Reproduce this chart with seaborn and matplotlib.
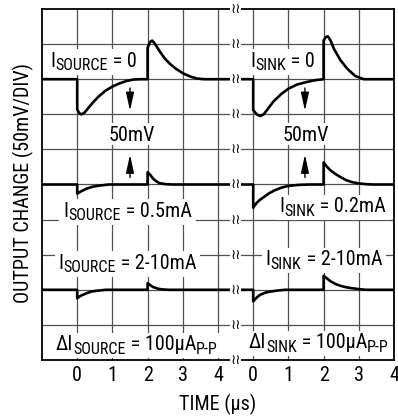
import matplotlib
matplotlib.use("Agg")
import matplotlib.pyplot as plt
import seaborn as sns
from matplotlib.font_manager import FontProperties, fontManager
from matplotlib.patches import Rectangle

# ---------------- data (output change in mV vs time in us) ----------------
# left panel: sourcing, right panel: sinking; each trace sits on its own baseline (in divisions)
SRC0_T  = [-1.0, 0.0, 0.0, 0.06, 0.12, 0.2, 0.3, 0.45, 0.6, 0.8, 1.0, 1.2, 1.4, 1.6, 1.8, 2.0,
           2.0, 2.07, 2.13, 2.2, 2.34, 2.48, 2.62, 2.8, 3.02, 3.2, 3.4, 3.6, 4.5]
SRC0_MV = [0, 0, -43, -48.5, -50, -48, -42, -33, -25, -16.5, -10.5, -6, -2.5, -0.5, 0, 0,
           45, 53, 55, 51, 40, 30, 22.5, 15, 8, 4, 1, 0, 0]

SNK0_T  = [-0.5, 0.0, 0.0, 0.1, 0.2, 0.3, 0.45, 0.57, 0.8, 1.0, 1.25, 1.52, 1.75, 2.0,
           2.0, 2.06, 2.12, 2.2, 2.29, 2.48, 2.67, 2.9, 3.14, 4.0]
SNK0_MV = [0, 0, -44, -50, -52.5, -50, -40, -32, -21, -13.5, -7.5, -4, -1.5, 0,
           55, 60, 61, 55, 43.5, 27, 15, 4.5, 0, 0]

SRC05_T  = [-1.0, 0.0, 0.0, 0.1, 0.26, 0.45, 0.64, 0.9, 2.0, 2.0, 2.08, 2.15, 2.25, 2.34, 2.5, 2.7, 4.5]
SRC05_MV = [0, 0, -13, -10, -6, -3, -1.5, 0, 0, 17.5, 13.5, 8.5, 4.5, 2, 0.5, 0, 0]

SNK02_T  = [-0.5, 0.0, 0.0, 0.1, 0.2, 0.3, 0.45, 0.6, 0.8, 1.0, 1.3, 1.6, 2.0,
            2.0, 2.1, 2.2, 2.35, 2.5, 2.65, 2.8, 3.0, 3.2, 3.4, 4.0]
SNK02_MV = [0, 0, -33, -26, -21.5, -18, -12.5, -8.5, -4.5, -2, -0.5, 0, 0,
            31.5, 25, 20, 14.5, 10, 6, 3.5, 1.5, 0.5, 0, 0]

SRC10_T  = [-1.0, 0.0, 0.0, 0.1, 0.26, 0.4, 0.54, 0.8, 2.0, 2.0, 2.08, 2.15, 2.3, 2.43, 2.6, 4.5]
SRC10_MV = [0, 0, -12, -8.5, -5, -2.5, -1.5, 0, 0, 9.5, 6.5, 4, 1.5, 0.5, 0, 0]

SNK10_T  = [-0.5, 0.0, 0.0, 0.1, 0.2, 0.35, 0.5, 0.7, 0.9, 2.0,
            2.0, 2.1, 2.2, 2.35, 2.49, 2.65, 2.77, 3.0, 3.2, 4.0]
SNK10_MV = [0, 0, -16.5, -11, -7, -4, -2.5, -1, 0, 0,
            20, 16, 12, 8, 5.5, 3.5, 2.5, 1, 0, 0]

BASELINES = [8, 8, 5, 5, 2, 2]            # divisions
PANEL_OFFSET = [0, 5, 0, 5, 0, 5]          # right panel time axis starts at 5
MV_PER_DIV = 50

XTICK_POS = [0, 1, 2, 3, 4, 5, 6, 7, 8, 9]
XTICK_LABELS = ["0", "1", "2", "3", "4", "0", "1", "2", "3", "4"]

# label text: (text, is_subscript)
LABELS = [
    ([("I", 0), ("SOURCE", 1), (" = 0", 0)], 0.463, 8.35),
    ([("I", 0), ("SINK", 1), (" = 0", 0)], 5.83, 8.35),
    ([("50mV", 0)], 1.54, 6.25),
    ([("50mV", 0)], 6.49, 6.25),
    ([("I", 0), ("SOURCE", 1), (" = 0.5mA", 0)], 1.43, 4.08),
    ([("I", 0), ("SINK", 1), (" = 0.2mA", 0)], 7.25, 4.21),
    ([("I", 0), ("SOURCE", 1), (" = 2-10mA", 0)], 1.43, 2.60),
    ([("I", 0), ("SINK", 1), (" = 2-10mA", 0)], 7.01, 2.70),
    ([("\u0394I", 0), ("SOURCE", 1), (" = 100\u00b5A", 0), ("P-P", 1)], 1.69, 0.28),
    ([("\u0394I", 0), ("SINK", 1), (" = 100\u00b5A", 0), ("P-P", 1)], 6.86, 0.33),
]
ARROWS_X = [1.5, 6.47]
ARROW_DOWN = (7.75, 7.1)
ARROW_UP = (5.2, 5.85)

# ---------------- style ----------------
sns.set_theme(style="white")
avail = {f.name for f in fontManager.ttflist}
FAM = next((f for f in ["Liberation Sans Narrow", "Arial Narrow", "Roboto Condensed",
                        "Liberation Sans"] if f in avail), "DejaVu Sans")
plt.rcParams["font.family"] = [FAM, "DejaVu Sans"]
FS = 14.5
FS_SUB = 11.5
SUB_DROP = 3.5  # px

fig = plt.figure(figsize=(3.98, 4.19), dpi=100)
W, H = 398, 419
ax = fig.add_axes([42 / W, 1 - 360 / H, 352 / W, 351 / H])
ax.set_xlim(-1, 9)
ax.set_ylim(0, 10)
ax.set_facecolor("white")

ax.set_xticks(XTICK_POS)
ax.set_xticklabels(XTICK_LABELS)
ax.set_yticks(range(1, 10))
ax.set_yticklabels([])
ax.grid(True, color="#505050", lw=0.9)
ax.set_axisbelow(True)
ax.tick_params(length=0, pad=4, labelsize=FS, colors="black")
for s in ax.spines.values():
    s.set_visible(True)
    s.set_color("black")
    s.set_linewidth(1.3)

# ---------------- traces ----------------
traces = [(SRC0_T, SRC0_MV), (SNK0_T, SNK0_MV), (SRC05_T, SRC05_MV),
          (SNK02_T, SNK02_MV), (SRC10_T, SRC10_MV), (SNK10_T, SNK10_MV)]
for (t, mv), base, off in zip(traces, BASELINES, PANEL_OFFSET):
    xs = [v + off for v in t]
    ys = [base + m / MV_PER_DIV for m in mv]
    sns.lineplot(x=xs, y=ys, ax=ax, color="black", lw=1.9, estimator=None,
                 sort=False, zorder=3)

# ---------------- labels with white boxes ----------------
renderer = fig.canvas.get_renderer()
px_per_pt = fig.dpi / 72.0
inv = ax.transData.inverted()


def rich_label(parts, xc, yb, padx=4, pady=3):
    widths = []
    for s, sub in parts:
        fp = FontProperties(family=FAM, size=FS_SUB if sub else FS)
        w, h, d = renderer.get_text_width_height_descent(s, fp, ismath=False)
        widths.append(w)
    total = sum(widths)
    x0, y0 = ax.transData.transform((xc, yb))
    x = x0 - total / 2
    has_sub = any(sub for _, sub in parts)
    for (s, sub), w in zip(parts, widths):
        yy = y0 - (SUB_DROP if sub else 0)
        xd, yd = inv.transform((x, yy))
        ax.text(xd, yd, s, fontsize=FS_SUB if sub else FS, family=[FAM, "DejaVu Sans"],
                ha="left", va="baseline", color="black", zorder=4)
        x += w
    cap = 0.72 * FS * px_per_pt
    bottom = y0 - (SUB_DROP + 1.5 if has_sub else 1) - pady
    top = y0 + cap + pady
    (lx, by) = inv.transform((x0 - total / 2 - padx, bottom))
    (rx, ty) = inv.transform((x0 + total / 2 + padx, top))
    ax.add_patch(Rectangle((lx, by), rx - lx, ty - by, facecolor="white",
                           edgecolor="none", zorder=2))


for parts, xc, yb in LABELS:
    rich_label(parts, xc, yb)

# ---------------- arrows ----------------
for xa in ARROWS_X:
    for (y_from, y_to) in (ARROW_DOWN, ARROW_UP):
        ax.annotate("", xy=(xa, y_to), xytext=(xa, y_from),
                    arrowprops=dict(arrowstyle="-|>,head_length=0.55,head_width=0.12",
                                    color="black", lw=1.0, shrinkA=0, shrinkB=0,
                                    mutation_scale=20), zorder=4)

# ---------------- axis breaks ----------------
for yb in range(0, 11):
    ax.text(4.5, yb, "\u2240\u2240", ha="center", va="center", fontsize=10,
            family="DejaVu Sans", color="black", zorder=6,
            bbox=dict(facecolor="white", edgecolor="none", pad=0.0))

# ---------------- axis titles ----------------
fig.text(218 / W, 1 - 410 / H, "TIME (\u00b5s)", ha="center", va="baseline",
         fontsize=FS, color="black")
fig.text(23 / W, 1 - 183 / H, "OUTPUT CHANGE (50mV/DIV)", rotation=90,
         ha="center", va="center", fontsize=FS, color="black")

fig.savefig("out.png", dpi=100, facecolor="white")
